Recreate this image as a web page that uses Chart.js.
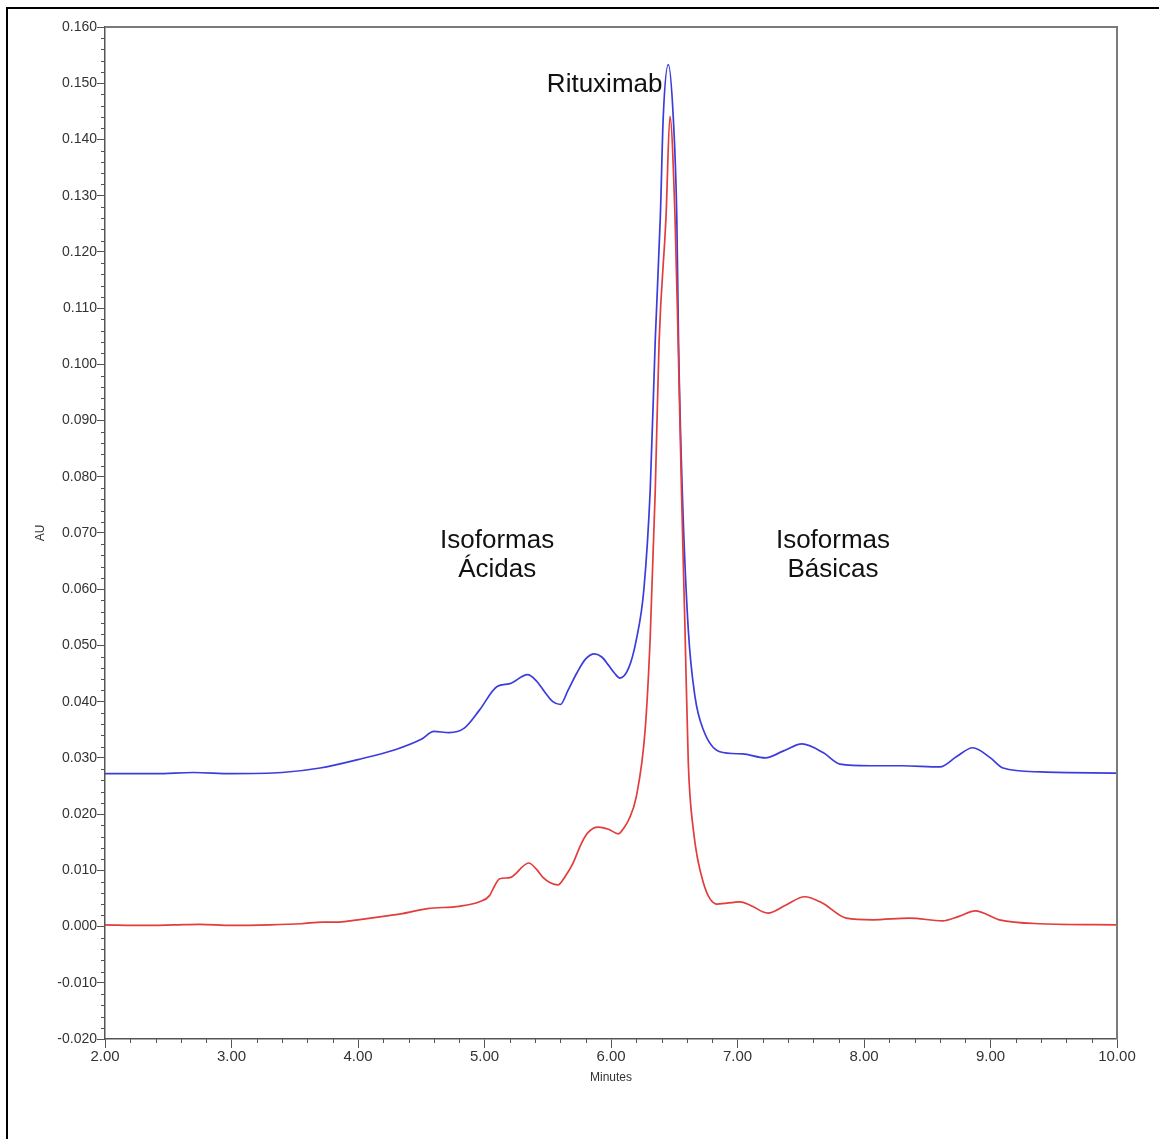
<!DOCTYPE html>
<html>
<head>
<meta charset="utf-8">
<script src="https://cdn.jsdelivr.net/npm/chart.js@4.4.1/dist/chart.umd.min.js"></script>
<style>
  html, body { margin: 0; padding: 0; background: #fff; }
  #wrap { position: relative; width: 1159px; height: 1139px; }
</style>
</head>
<body>
<div id="wrap"><canvas id="chart"></canvas></div>
<script>
// chromatogram readings (minutes, AU)
const blueTimes = [2.00, 2.40, 2.70, 3.00, 3.40, 3.70, 4.00, 4.30, 4.50, 4.60, 4.72, 4.84, 4.96, 5.10, 5.20, 5.34, 5.41, 5.48, 5.54, 5.60, 5.66, 5.73, 5.80, 5.87, 5.93, 5.98, 6.03, 6.07, 6.14, 6.20, 6.26, 6.31, 6.35, 6.39, 6.413, 6.453, 6.492, 6.52, 6.534, 6.563, 6.611, 6.664, 6.73, 6.86, 7.04, 7.22, 7.36, 7.51, 7.68, 7.81, 8.05, 8.30, 8.60, 8.73, 8.86, 9.00, 9.10, 9.40, 10.00];
const blueAU = [0.0272, 0.0272, 0.0274, 0.0272, 0.0274, 0.0282, 0.0297, 0.0315, 0.0333, 0.0347, 0.0345, 0.0353, 0.0385, 0.0427, 0.0432, 0.0448, 0.0437, 0.0416, 0.0400, 0.0395, 0.0420, 0.0451, 0.0476, 0.0485, 0.0479, 0.0465, 0.0450, 0.0442, 0.0460, 0.0510, 0.0600, 0.0777, 0.1044, 0.1263, 0.1440, 0.1533, 0.1440, 0.1263, 0.1038, 0.0777, 0.0528, 0.0409, 0.0350, 0.0311, 0.0307, 0.0300, 0.0312, 0.0325, 0.0309, 0.0289, 0.0286, 0.0286, 0.0284, 0.0302, 0.0318, 0.0300, 0.0282, 0.0275, 0.0273];

const redTimes = [2.00, 2.30, 2.55, 2.75, 3.00, 3.30, 3.55, 3.72, 3.85, 4.00, 4.20, 4.35, 4.55, 4.80, 4.96, 5.04, 5.07, 5.12, 5.20, 5.35, 5.41, 5.46, 5.52, 5.58, 5.64, 5.70, 5.76, 5.81, 5.86, 5.90, 5.98, 6.06, 6.10, 6.14, 6.20, 6.27, 6.31, 6.35, 6.38, 6.435, 6.466, 6.506, 6.531, 6.557, 6.585, 6.611, 6.651, 6.73, 6.84, 7.02, 7.10, 7.24, 7.38, 7.53, 7.67, 7.86, 8.07, 8.36, 8.62, 8.75, 8.88, 9.07, 9.40, 10.00];
const redAU = [0.0003, 0.0002, 0.0003, 0.0004, 0.0002, 0.0003, 0.0005, 0.0008, 0.0008, 0.0012, 0.0018, 0.0023, 0.0032, 0.0036, 0.0044, 0.0055, 0.0068, 0.0085, 0.0087, 0.0113, 0.0102, 0.0088, 0.0078, 0.0074, 0.0090, 0.0113, 0.0145, 0.0165, 0.0175, 0.0177, 0.0173, 0.0165, 0.0175, 0.0190, 0.0231, 0.0350, 0.0515, 0.0777, 0.1038, 0.1263, 0.1441, 0.1263, 0.1038, 0.0777, 0.0528, 0.0291, 0.0172, 0.0078, 0.0040, 0.0044, 0.0038, 0.0024, 0.0038, 0.0053, 0.0042, 0.0015, 0.0012, 0.0015, 0.0010, 0.0018, 0.0028, 0.0012, 0.0005, 0.0003];

const xTicks = [2, 3, 4, 5, 6, 7, 8, 9, 10];

const toPoints = (xs, ys) => xs.map((x, i) => ({ x, y: ys[i] }));

// outer frame, plot box, minor ticks and the peak labels
const decor = {
  id: 'decor',
  beforeDraw(chart) {
    const { ctx } = chart;
    ctx.save();
    ctx.fillStyle = '#000';
    ctx.fillRect(6, 7, 1153, 2);
    ctx.fillRect(6, 7, 2, 1132);
    ctx.restore();
  },
  afterDraw(chart) {
    const { ctx, chartArea: a, scales: { x, y } } = chart;
    ctx.save();
    ctx.strokeStyle = '#7a7a7a';
    ctx.lineWidth = 2;
    ctx.beginPath();
    ctx.moveTo(a.left, a.top);
    ctx.lineTo(a.right, a.top);
    ctx.lineTo(a.right, a.bottom);
    ctx.stroke();

    ctx.strokeStyle = '#555';
    ctx.lineWidth = 1;
    ctx.beginPath();
    for (let i = 0; i <= 90; i++) {
      if (i % 5 === 0) continue;
      const py = Math.round(y.getPixelForValue(-0.02 + i * 0.002)) + 0.5;
      ctx.moveTo(a.left - 4, py);
      ctx.lineTo(a.left, py);
    }
    for (let i = 0; i <= 40; i++) {
      if (i % 5 === 0) continue;
      const px = Math.round(x.getPixelForValue(2 + i * 0.2)) + 0.5;
      ctx.moveTo(px, a.bottom);
      ctx.lineTo(px, a.bottom + 4);
    }
    ctx.stroke();

    ctx.fillStyle = '#111';
    ctx.font = '26px "Liberation Sans", Arial, sans-serif';
    ctx.textBaseline = 'alphabetic';
    ctx.textAlign = 'left';
    ctx.fillText('Rituximab', x.getPixelForValue(5.493), y.getPixelForValue(0.1485));
    ctx.textAlign = 'center';
    ctx.fillText('Isoformas', x.getPixelForValue(5.10), y.getPixelForValue(0.0674));
    ctx.fillText('Ácidas', x.getPixelForValue(5.10), y.getPixelForValue(0.0621));
    ctx.fillText('Isoformas', x.getPixelForValue(7.755), y.getPixelForValue(0.0674));
    ctx.fillText('Básicas', x.getPixelForValue(7.755), y.getPixelForValue(0.0621));
    ctx.restore();
  }
};

new Chart(document.getElementById('chart'), {
  type: 'line',
  data: {
    datasets: [
      {
        label: 'Muestra',
        data: toPoints(redTimes, redAU),
        borderColor: '#e23c3c',
        borderWidth: 1.7,
        pointRadius: 0,
        cubicInterpolationMode: 'monotone',
        order: 0,
      },
      {
        label: 'Referencia',
        data: toPoints(blueTimes, blueAU),
        borderColor: '#3c3cdc',
        borderWidth: 1.7,
        pointRadius: 0,
        cubicInterpolationMode: 'monotone',
        order: 1,
      },
    ],
  },
  options: {
    responsive: true,
    maintainAspectRatio: false,
    animation: false,
    events: [],
    layout: { padding: { left: 0, top: 27, right: 42, bottom: 54 } },
    plugins: { legend: { display: false }, tooltip: { enabled: false } },
    scales: {
      x: {
        type: 'linear',
        min: 2,
        max: 10,
        afterBuildTicks: (s) => { s.ticks = xTicks.map((v) => ({ value: v })); },
        afterFit: (s) => { s.height = 46; },
        ticks: {
          callback: (v) => Number(v).toFixed(2),
          color: '#333',
          font: { family: '"Liberation Sans", Arial, sans-serif', size: 15 },
          padding: 0,
          maxRotation: 0,
        },
        grid: { drawOnChartArea: false, tickLength: 9, tickColor: '#555', tickWidth: 1 },
        border: { display: true, color: '#555', width: 1.5 },
        title: {
          display: true,
          text: 'Minutes',
          color: '#333',
          font: { family: '"Liberation Sans", Arial, sans-serif', size: 12 },
          padding: 0,
        },
      },
      y: {
        min: -0.02,
        max: 0.16,
        afterFit: (s) => { s.width = 105; },
        ticks: {
          stepSize: 0.01,
          callback: (v) => Number(v).toFixed(3),
          color: '#333',
          font: { family: '"Liberation Sans", Arial, sans-serif', size: 14 },
          padding: 0,
        },
        grid: { drawOnChartArea: false, tickLength: 8, tickColor: '#555', tickWidth: 1 },
        border: { display: true, color: '#555', width: 1.5 },
        title: {
          display: true,
          text: 'AU',
          color: '#333',
          font: { family: '"Liberation Sans", Arial, sans-serif', size: 12 },
          padding: { top: 33, bottom: 0 },
        },
      },
    },
  },
  plugins: [decor],
});
</script>
</body>
</html>
